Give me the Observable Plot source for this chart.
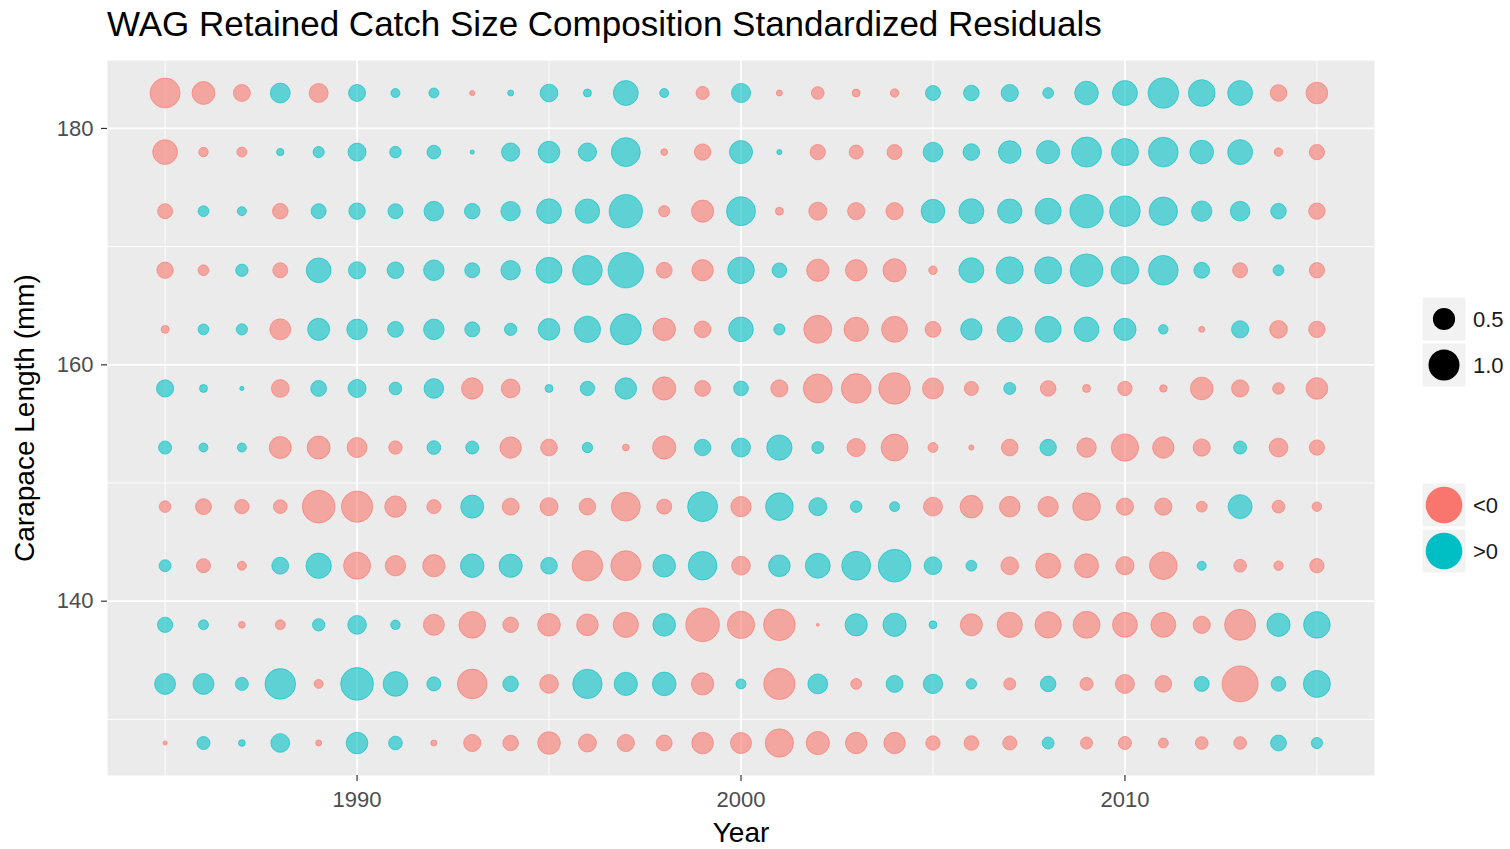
<!DOCTYPE html>
<html>
<head>
<meta charset="utf-8">
<script src="https://cdn.jsdelivr.net/npm/d3@7"></script>
<script src="https://cdn.jsdelivr.net/npm/@observablehq/plot@0.6"></script>
<style>
  body { margin: 0; background: #ffffff; font-family: "Liberation Sans", Arial, sans-serif; }
  #wrap { position: relative; width: 1510px; height: 849px; overflow: hidden; }
  #title { position: absolute; left: 107px; top: 4px; font-size: 35px; color: #000; white-space: nowrap; line-height: 40px; }
  #chart { position: absolute; left: 0; top: 60px; }
  #legend { position: absolute; left: 1400px; top: 280px; }
</style>
</head>
<body>
<div id="wrap">
  <div id="title">WAG Retained Catch Size Composition Standardized Residuals</div>
  <div id="chart"></div>
  <div id="legend"></div>
</div>
<script>
// ---- data ----
const years = [1985, 1986, 1987, 1988, 1989, 1990, 1991, 1992, 1993, 1994, 1995,
               1996, 1997, 1998, 1999, 2000, 2001, 2002, 2003, 2004, 2005, 2006,
               2007, 2008, 2009, 2010, 2011, 2012, 2013, 2014, 2015];
const lengths = [183, 178, 173, 168, 163, 158, 153, 148, 143, 138, 133, 128];

// standardized residuals per carapace-length bin, 1985..2015
const r183 = [-1.00, -0.58, -0.32, 0.44, -0.40, 0.32, 0.09, 0.11, -0.03, 0.04, 0.35,
              0.07, 0.69, 0.09, -0.19, 0.41, -0.04, -0.18, -0.07, -0.08, 0.25, 0.27,
              0.33, 0.13, 0.62, 0.69, 1.04, 0.79, 0.69, -0.31, -0.52];
const r178 = [-0.68, -0.10, -0.11, 0.06, 0.14, 0.36, 0.15, 0.21, 0.02, 0.37, 0.52,
              0.37, 0.93, -0.05, -0.30, 0.59, 0.03, -0.26, -0.22, -0.25, 0.43, 0.31,
              0.57, 0.60, 1.00, 0.81, 0.98, 0.62, 0.69, -0.08, -0.26];
const r173 = [-0.25, 0.13, 0.09, -0.27, 0.25, 0.30, 0.25, 0.43, 0.27, 0.42, 0.68,
              0.66, 1.23, -0.14, -0.55, 0.93, -0.07, -0.36, -0.33, -0.33, 0.62, 0.69,
              0.66, 0.75, 1.23, 1.04, 0.89, 0.46, 0.43, 0.27, -0.30];
const r168 = [-0.30, -0.13, 0.17, -0.25, 0.68, 0.33, 0.31, 0.47, 0.25, 0.42, 0.75,
              0.98, 1.39, -0.28, -0.51, 0.79, 0.24, -0.55, -0.51, -0.60, -0.08, 0.69,
              0.81, 0.81, 1.19, 0.85, 0.98, 0.28, -0.25, 0.13, -0.26];
const r163 = [-0.07, 0.13, 0.14, -0.49, 0.54, 0.47, 0.28, 0.47, 0.25, 0.17, 0.52,
              0.77, 1.07, -0.57, -0.31, 0.68, 0.14, -0.87, -0.66, -0.75, -0.28, 0.51,
              0.71, 0.75, 0.68, 0.55, 0.10, -0.04, 0.33, -0.35, -0.30];
const r158 = [0.33, 0.07, 0.02, -0.35, 0.28, 0.36, 0.18, 0.43, -0.51, -0.39, 0.07,
              0.23, 0.51, -0.60, -0.28, 0.24, -0.33, -0.93, -0.98, -1.11, -0.49, -0.22,
              0.16, -0.27, -0.07, -0.23, -0.06, -0.57, -0.33, -0.15, -0.52];
const r153 = [0.19, 0.09, 0.09, -0.54, -0.59, -0.44, -0.20, 0.21, 0.19, -0.51, -0.31,
              0.12, -0.05, -0.60, 0.30, 0.40, 0.71, 0.16, -0.37, -0.81, -0.11, -0.03,
              -0.31, 0.30, -0.42, -0.83, -0.51, -0.33, 0.19, -0.39, -0.26];
const r148 = [-0.15, -0.28, -0.23, -0.21, -1.19, -1.09, -0.51, -0.22, 0.59, -0.32, -0.36,
              -0.31, -0.93, -0.25, 1.00, -0.46, 0.85, 0.36, 0.15, 0.11, -0.40, -0.57,
              -0.47, -0.46, -0.85, -0.33, -0.33, -0.13, 0.64, -0.18, -0.10];
const r143 = [0.16, -0.22, -0.09, 0.32, 0.71, -0.81, -0.46, -0.55, 0.62, 0.60, 0.31,
              -1.04, -1.00, 0.57, 0.91, -0.39, 0.52, 0.69, 0.93, 1.19, 0.35, 0.13,
              -0.35, -0.69, -0.64, -0.37, -0.85, 0.09, -0.18, -0.10, -0.23];
const r138 = [0.26, 0.11, -0.05, -0.11, 0.17, 0.39, 0.10, -0.49, -0.79, -0.27, -0.57,
              -0.52, -0.71, 0.57, -1.26, -0.83, -1.11, -0.01, 0.55, 0.60, 0.07, -0.54,
              -0.71, -0.77, -0.81, -0.69, -0.69, -0.33, -1.07, 0.60, 0.79];
const r133 = [0.49, 0.49, 0.19, 1.04, -0.09, 1.19, 0.68, 0.22, -0.98, 0.27, -0.39,
              0.96, 0.60, 0.62, -0.55, 0.11, -1.09, 0.44, -0.13, 0.32, 0.42, 0.12,
              -0.16, 0.27, -0.19, -0.40, -0.31, 0.25, -1.44, 0.24, 0.81];
const r128 = [-0.02, 0.19, 0.05, 0.39, -0.04, 0.52, 0.21, -0.04, -0.33, -0.27, -0.57,
              -0.36, -0.33, -0.28, -0.52, -0.49, -0.89, -0.60, -0.51, -0.51, -0.23, -0.24,
              -0.22, 0.16, -0.16, -0.19, -0.11, -0.18, -0.18, 0.28, 0.14];

const xTicks = [1990, 2000, 2010];
const xMinor = [1985, 1995, 2005, 2015];
const yTicks = [140, 160, 180];
const yMinor = [130, 150, 170];
const sizeBreaks = [0.5, 1.0];
const sizeLabels = ["0.5", "1.0"];
const signLabels = ["<0", ">0"];
const signColors = ["#F8766D", "#00BFC4"];

// ---- build table ----
const rowsByLength = {183: r183, 178: r178, 173: r173, 168: r168, 163: r163, 158: r158,
                      153: r153, 148: r148, 143: r143, 138: r138, 133: r133, 128: r128};
const table = lengths.flatMap(L => rowsByLength[L].map((v, i) => ({
  year: years[i], length: L, resid: v, size: Math.abs(v), sign: v < 0 ? "<0" : ">0"
})));

const font = "'Liberation Sans', Arial, sans-serif";

const plot = Plot.plot({
  width: 1510,
  height: 789,
  marginLeft: 107,
  marginRight: 136,
  marginTop: 0,
  marginBottom: 74,
  style: {fontFamily: font, background: "transparent", overflow: "visible"},
  x: {domain: [1983.5, 2016.5]},
  y: {domain: [125.25, 185.75]},
  r: {type: "sqrt", domain: [0, 1], range: [0, 15], clamp: false},
  color: {domain: signLabels, range: signColors},
  marks: [
    Plot.frame({fill: "#EBEBEB", stroke: null}),
    Plot.gridX(xMinor, {stroke: "#ffffff", strokeOpacity: 1, strokeWidth: 0.9}),
    Plot.gridY(yMinor, {stroke: "#ffffff", strokeOpacity: 1, strokeWidth: 0.9}),
    Plot.gridX(xTicks, {stroke: "#ffffff", strokeOpacity: 1, strokeWidth: 1.8}),
    Plot.gridY(yTicks, {stroke: "#ffffff", strokeOpacity: 1, strokeWidth: 1.8}),
    Plot.dot(table, {
      x: "year", y: "length", r: "size",
      fill: "sign", stroke: "sign",
      fillOpacity: 0.6, strokeOpacity: 0.6, strokeWidth: 1
    }),
    Plot.axisX(xTicks, {
      tickSize: 6, tickPadding: 10, fontSize: 22, color: "#4D4D4D", stroke: "#333333",
      strokeWidth: 1.2, label: null, tickFormat: d => String(d)
    }),
    Plot.axisY(yTicks, {
      tickSize: 6, tickPadding: 8, fontSize: 22, color: "#4D4D4D", stroke: "#333333",
      strokeWidth: 1.2, label: null, tickFormat: d => String(d)
    }),
    Plot.text(["Year"], {
      text: d => d, frameAnchor: "bottom", lineAnchor: "middle", textAnchor: "middle", dy: 58,
      fontSize: 28, fill: "#000000"
    }),
    Plot.text(["Carapace Length (mm)"], {
      text: d => d, frameAnchor: "left", lineAnchor: "middle", textAnchor: "middle",
      rotate: -90, dx: -82, fontSize: 28, fill: "#000000"
    })
  ]
});
document.getElementById("chart").appendChild(plot);

// ---- legends (sizes come from the plot's own scales) ----
const rScale = plot.scale("r");
const rFn = d3.scaleSqrt().domain(rScale.domain).range(rScale.range);
const cScale = plot.scale("color");

const leg = d3.select("#legend").append("svg")
  .attr("width", 110).attr("height", 320)
  .style("font-family", font).style("overflow", "visible");

const keyX = 22, keyW = 44;
// size legend
const sizeCenters = [39, 85];
sizeBreaks.forEach((b, i) => {
  const cy = sizeCenters[i];
  leg.append("rect").attr("x", keyX).attr("y", cy - 22).attr("width", keyW).attr("height", 44)
    .attr("fill", "#F2F2F2").attr("stroke", "#ffffff").attr("stroke-width", 1);
  leg.append("circle").attr("cx", keyX + keyW / 2).attr("cy", cy).attr("r", rFn(b) + 0.5)
    .attr("fill", "#000000");
  leg.append("text").attr("x", 73).attr("y", cy).attr("dy", "0.35em")
    .attr("font-size", 22).attr("fill", "#1A1A1A").text(sizeLabels[i]);
});
// colour legend
const colCenters = [225, 271];
signLabels.forEach((s, i) => {
  const cy = colCenters[i];
  leg.append("rect").attr("x", keyX).attr("y", cy - 22).attr("width", keyW).attr("height", 44)
    .attr("fill", "#F2F2F2").attr("stroke", "#ffffff").attr("stroke-width", 1);
  leg.append("circle").attr("cx", keyX + keyW / 2).attr("cy", cy).attr("r", 18.3)
    .attr("fill", cScale.apply(s));
  leg.append("text").attr("x", 73).attr("y", cy).attr("dy", "0.35em")
    .attr("font-size", 22).attr("fill", "#1A1A1A").text(s);
});
</script>
</body>
</html>
